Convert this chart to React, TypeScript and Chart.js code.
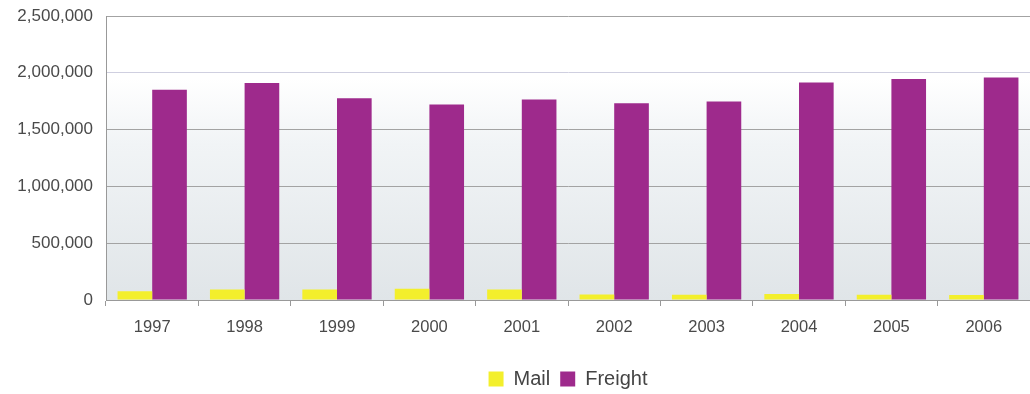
import React, { useEffect, useRef } from "react";
import { Chart, registerables } from "chart.js";

Chart.register(...registerables);

const years = ["1997", "1998", "1999", "2000", "2001", "2002", "2003", "2004", "2005", "2006"];
const mail = [78000, 92000, 93000, 98000, 92000, 48000, 46000, 52000, 47000, 44000];
const freight = [1850000, 1910000, 1775000, 1722000, 1765000, 1732000, 1748000, 1915000, 1945000, 1958000];

const FONT = "'Liberation Sans', Arial, Helvetica, sans-serif";

// Soft vertical wash behind the bars, white at the top fading to a cool grey.
const plotBackground = {
  id: "plotBackground",
  beforeDraw(chart: any) {
    const { ctx, chartArea } = chart;
    if (!chartArea) return;
    const g = ctx.createLinearGradient(0, chartArea.top, 0, chartArea.bottom);
    g.addColorStop(0, "#ffffff");
    g.addColorStop(0.22, "#ffffff");
    g.addColorStop(0.45, "#f1f4f6");
    g.addColorStop(1, "#e0e5e8");
    ctx.save();
    ctx.fillStyle = g;
    ctx.fillRect(chartArea.left, chartArea.top, chartArea.right - chartArea.left, chartArea.bottom - chartArea.top);
    ctx.restore();
  },
};

export default function App() {
  const ref = useRef<HTMLCanvasElement | null>(null);

  useEffect(() => {
    if (!ref.current) return;
    const chart = new Chart(ref.current, {
      type: "bar",
      data: {
        labels: years,
        datasets: [
          {
            label: "Mail",
            data: mail,
            backgroundColor: "#f3ef2c",
            categoryPercentage: 0.75,
            barPercentage: 1.0,
          },
          {
            label: "Freight",
            data: freight,
            backgroundColor: "#9e2a8c",
            categoryPercentage: 0.75,
            barPercentage: 1.0,
          },
        ],
      },
      options: {
        responsive: false,
        animation: false,
        layout: { padding: { top: 16, right: 0, bottom: -5, left: 0 } },
        plugins: {
          tooltip: { enabled: false },
          legend: {
            position: "bottom",
            fullSize: false,
            labels: {
              boxWidth: 15,
              boxHeight: 15,
              padding: 10,
              color: "#444",
              font: { family: FONT, size: 20 },
            },
          },
        },
        scales: {
          x: {
            afterFit(scale: any) {
              scale.height = 59;
            },
            grid: {
              offset: true,
              drawOnChartArea: false,
              drawTicks: true,
              tickLength: 6,
              color: "#999",
            },
            border: { display: true, color: "#999" },
            ticks: {
              color: "#4a4a4a",
              padding: 12,
              font: { family: FONT, size: 16.5 },
            },
          },
          y: {
            min: 0,
            max: 2500000,
            afterFit(scale: any) {
              scale.width = 106;
              scale.paddingTop = 0;
              scale.paddingBottom = 0;
            },
            grid: {
              drawTicks: false,
              color: (c: any) => (c.tick && c.tick.value === 2000000 ? "#cfcfe0" : "#a3a3a3"),
            },
            border: { display: true, color: "#999" },
            ticks: {
              stepSize: 500000,
              padding: 13,
              color: "#4a4a4a",
              font: { family: FONT, size: 17 },
              callback: (v: any) => Number(v).toLocaleString("en-US"),
            },
          },
        },
      },
      plugins: [plotBackground],
    });
    return () => chart.destroy();
  }, []);

  return (
    <div style={{ position: "fixed", left: 0, top: 0, width: 1030, height: 394, background: "#fff" }}>
      <canvas ref={ref} width={1030} height={394} style={{ display: "block" }} />
    </div>
  );
}
